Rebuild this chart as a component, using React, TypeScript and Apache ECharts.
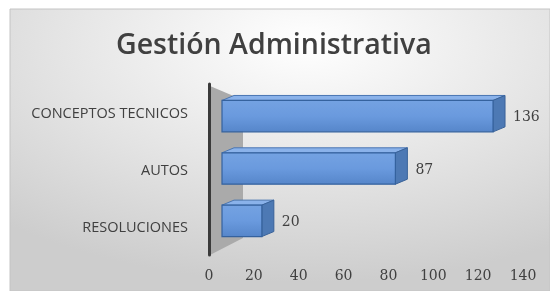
import React, { useEffect, useRef } from "react";
import * as echarts from "echarts";

const categories = ["CONCEPTOS TECNICOS", "AUTOS", "RESOLUCIONES"];
const values = [136, 87, 20];
const tickMin = 0;
const tickMax = 140;
const tickInterval = 20;
const titleText = "Gestión Administrativa";

export default function App() {
  const ref = useRef<HTMLDivElement>(null);
  useEffect(() => {
    document.body.style.margin = "0";
    const chart = echarts.init(ref.current!, null, { renderer: "svg" });
    const dx = 12;
    const dy = -5;
    const option: any = {
      animation: false,
      title: {
        text: titleText,
        left: 111,
        top: 23,
        textStyle: { fontFamily: "Open Sans", fontWeight: 600, fontSize: 28.5, color: "#404040" },
      },
      graphic: [
        {
          type: "rect",
          z: -10,
          shape: { x: 10, y: 9, width: 540, height: 282 },
          style: {
            fill: new echarts.graphic.RadialGradient(0.55, 0.12, 0.85, [
              { offset: 0, color: "#ffffff" },
              { offset: 0.55, color: "#e4e4e4" },
              { offset: 1, color: "#cdcdcd" },
            ]),
            stroke: "#c4c4c4",
            lineWidth: 1,
          },
        },
        {
          type: "polygon",
          z: -5,
          shape: { points: [[210, 86], [243, 100], [243, 238], [210, 255]] },
          style: { fill: "#aaaaaa" },
        },
      ],
      grid: [
        { left: 209, right: 27, top: 84, bottom: 36 },
        { left: 222, right: 49, top: 90, bottom: 44 },
      ],
      xAxis: [
        {
          gridIndex: 0,
          type: "value",
          min: tickMin,
          max: tickMax,
          interval: tickInterval,
          axisLine: { show: false },
          axisTick: { show: false },
          splitLine: { show: false },
          axisLabel: { fontFamily: "DejaVu Serif", fontSize: 14, color: "#404040", margin: 13 },
        },
        { gridIndex: 1, type: "value", min: tickMin, max: tickMax, show: false },
      ],
      yAxis: [
        {
          gridIndex: 0,
          type: "category",
          data: categories,
          inverse: true,
          axisLine: { show: true, lineStyle: { color: "#3a3a3a", width: 3 } },
          axisTick: { show: false },
          axisLabel: { fontFamily: "Open Sans", fontSize: 14.5, color: "#404040", margin: 21 },
        },
        { gridIndex: 1, type: "category", data: categories, inverse: true, show: false },
      ],
      series: [
        {
          type: "custom",
          xAxisIndex: 1,
          yAxisIndex: 1,
          data: values.map((v, i) => [v, i]),
          renderItem: (params: any, api: any) => {
            const v = api.value(0);
            const c = api.value(1);
            const s = api.coord([0, c]);
            const e = api.coord([v, c]);
            const h = api.size([0, 1])[1] * 0.6;
            const x0 = s[0];
            const x1 = e[0];
            const yT = s[1] - h / 2;
            const yB = yT + h;
            return {
              type: "group",
              children: [
                {
                  type: "polygon",
                  shape: { points: [[x0, yT], [x0 + dx, yT + dy], [x1 + dx, yT + dy], [x1, yT]] },
                  style: { fill: "#8ab2ea", stroke: "#4a76b2", lineWidth: 1 },
                },
                {
                  type: "polygon",
                  shape: { points: [[x1, yT], [x1 + dx, yT + dy], [x1 + dx, yB + dy], [x1, yB]] },
                  style: { fill: "#4d79b4", stroke: "#3a6399", lineWidth: 1 },
                },
                {
                  type: "rect",
                  shape: { x: x0, y: yT, width: x1 - x0, height: h },
                  style: {
                    fill: new echarts.graphic.LinearGradient(0, 0, 0, 1, [
                      { offset: 0, color: "#74a2e2" },
                      { offset: 0.5, color: "#6a9ade" },
                      { offset: 1, color: "#5686ca" },
                    ]),
                    stroke: "#35629e",
                    lineWidth: 1.2,
                  },
                },
                {
                  type: "text",
                  style: {
                    text: String(v),
                    x: x1 + dx + 8,
                    y: s[1],
                    verticalAlign: "middle",
                    align: "left",
                    fontFamily: "DejaVu Serif",
                    fontSize: 14,
                    fill: "#404040",
                  },
                },
              ],
            };
          },
        },
      ],
    };
    chart.setOption(option);
    return () => chart.dispose();
  }, []);
  return <div ref={ref} style={{ position: "fixed", left: 0, top: 0, width: 550, height: 291 }} />;
}
